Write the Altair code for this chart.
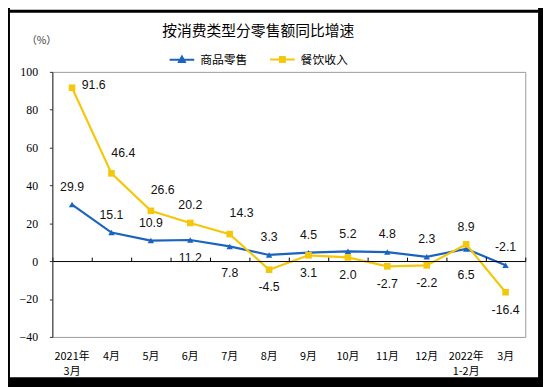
import altair as alt
import pandas as pd

months = ["2021年|3月", "4月", "5月", "6月", "7月", "8月", "9月", "10月", "11月", "12月", "2022年|1-2月", "3月"]
series_names = ["商品零售", "餐饮收入"]
goods = [29.9, 15.1, 10.9, 11.2, 7.8, 3.3, 4.5, 5.2, 4.8, 2.3, 6.5, -2.1]
catering = [91.6, 46.4, 26.6, 20.2, 14.3, -4.5, 3.1, 2.0, -2.7, -2.2, 8.9, -16.4]
# label placement relative to each point
goods_pos = ["above", "above", "above", "below", "low", "above", "above", "above", "above", "above", "low", "above"]
catering_pos = ["right", "upright", "upright", "above", "upright", "below", "below", "below", "below", "below", "above", "below"]
y_ticks = [-40, -20, 0, 20, 40, 60, 80, 100]

BLUE = "#1a64be"
YELLOW = "#f5c70a"

rows = []
for m, v, p in zip(months, goods, goods_pos):
    rows.append({"month": m, "series": series_names[0], "value": v, "pos": p})
for m, v, p in zip(months, catering, catering_pos):
    rows.append({"month": m, "series": series_names[1], "value": v, "pos": p})
df = pd.DataFrame(rows)
df["label"] = df["value"].map(lambda v: f"{v:.1f}")
one = pd.DataFrame({"a": [0]})

W, H = 480, 269
yscale = alt.Scale(domain=[-40, 100], nice=False, zero=False)
cscale = alt.Scale(domain=series_names, range=[BLUE, YELLOW])

# legend glyphs: a short line with the series marker in the middle
LEG_TRI = "M-1,0L1,0M0,-0.26L0.24,0.18L-0.24,0.18Z M0,-0.1L0.1,0.1L-0.1,0.1Z"
LEG_SQ = "M-1,0L1,0M-0.2,-0.2L0.2,-0.2L0.2,0.2L-0.2,0.2Z M-0.08,-0.08L0.08,-0.08L0.08,0.08L-0.08,0.08Z"

yaxis = alt.Axis(values=y_ticks, grid=False, tickSize=3, tickColor="#333", domainColor="#333",
                 labelFont="Liberation Serif", labelFontSize=12, labelColor="#000",
                 labelPadding=12, title=None, zindex=1)
Y = alt.Y("value:Q", scale=yscale, axis=yaxis)

legend = alt.Legend(orient="none", legendX=118, legendY=-26, direction="horizontal",
                    title=None, symbolSize=625, symbolStrokeWidth=2, symbolOpacity=1,
                    labelFont="Noto Sans CJK SC", labelFontSize=12, labelColor="#000",
                    labelOffset=5, columnPadding=18, padding=0)

base = alt.Chart(df)

lines = base.mark_line(strokeWidth=2.2).encode(
    x=alt.X("month:N", sort=months, scale=alt.Scale(paddingInner=0, paddingOuter=0),
            axis=alt.Axis(orient="bottom", domain=False, ticks=False, labelPadding=14,
                          labelExpr="split(datum.label, '|')", labelLineHeight=15,
                          labelFont="Noto Sans CJK SC", labelFontSize=11, labelColor="#000",
                          labelAngle=0, title=None)),
    y=Y,
    color=alt.Color("series:N", scale=cscale, sort=series_names, legend=legend),
    detail="series:N",
)

# legend carrier: draws nothing, only supplies the combined line+marker legend
legend_layer = base.transform_filter("false").mark_point(filled=False, strokeWidth=2).encode(
    x=alt.X("month:N", sort=months, axis=None),
    y=Y,
    color=alt.Color("series:N", scale=cscale, sort=series_names, legend=legend),
    shape=alt.Shape("series:N", scale=alt.Scale(domain=series_names, range=[LEG_TRI, LEG_SQ]),
                    sort=series_names, legend=legend),
)

pts_goods = base.transform_filter(alt.datum.series == series_names[0]).mark_point(
    filled=True, opacity=1, size=42, shape="triangle-up", color=BLUE
).encode(
    x=alt.X("month:N", sort=months,
            axis=alt.Axis(orient="top", offset=-192, labels=False, domainColor="#000", domainWidth=1,
                          tickColor="#000", tickSize=4, tickBand="extent", title=None, zindex=1)),
    y=Y,
)
pts_cat = base.transform_filter(alt.datum.series == series_names[1]).mark_point(
    filled=True, opacity=1, size=45, shape="square", color=YELLOW
).encode(
    x=alt.X("month:N", sort=months, axis=None),
    y=Y,
)

offsets = {"above": (0, -18), "below": (0, 18), "low": (0, 27), "right": (22, -3), "upright": (12, -21)}
texts = []
for pos, (dx, dy) in offsets.items():
    texts.append(
        base.transform_filter(alt.datum.pos == pos).mark_text(
            dx=dx, dy=dy, font="Liberation Sans", fontSize=12.5, color="#111", baseline="middle"
        ).encode(
            x=alt.X("month:N", sort=months, axis=None),
            y=Y,
            text="label:N",
        )
    )

title = alt.Chart(one).mark_text(text="按消费类型分零售额同比增速", font="Noto Sans CJK SC", fontSize=15,
                                 color="#000", align="center", baseline="middle").encode(
    x=alt.value(209), y=alt.value(-41))
unit = alt.Chart(one).mark_text(text="（%）", font="Noto Sans CJK SC", fontSize=10.5,
                                color="#333", align="center", baseline="middle").encode(
    x=alt.value(-11), y=alt.value(-31))

frame_r = alt.Chart(one).mark_rect(color="black").encode(
    x=alt.value(493), x2=alt.value(500), y=alt.value(-70), y2=alt.value(320))
frame_b = alt.Chart(one).mark_rect(color="black").encode(
    x=alt.value(-50), x2=alt.value(500), y=alt.value(310), y2=alt.value(320))
frame_l = alt.Chart(one).mark_rect(color="black").encode(
    x=alt.value(-46), x2=alt.value(-43), y=alt.value(-70), y2=alt.value(320))
frame_t = alt.Chart(one).mark_rect(color="black").encode(
    x=alt.value(-50), x2=alt.value(500), y=alt.value(-63), y2=alt.value(-60))

chart = alt.layer(
    lines, legend_layer, pts_goods, pts_cat, *texts, title, unit, frame_r, frame_b, frame_l, frame_t
).resolve_axis(x="independent").properties(
    width=W, height=H,
    autosize=alt.AutoSizeParams(type="none"),
    padding={"left": 45, "top": 62, "right": 18, "bottom": 48},
    background="white",
).configure_view(stroke="#999", strokeWidth=1)

chart.save("out.html", embed_options={"renderer": "svg", "actions": False})
